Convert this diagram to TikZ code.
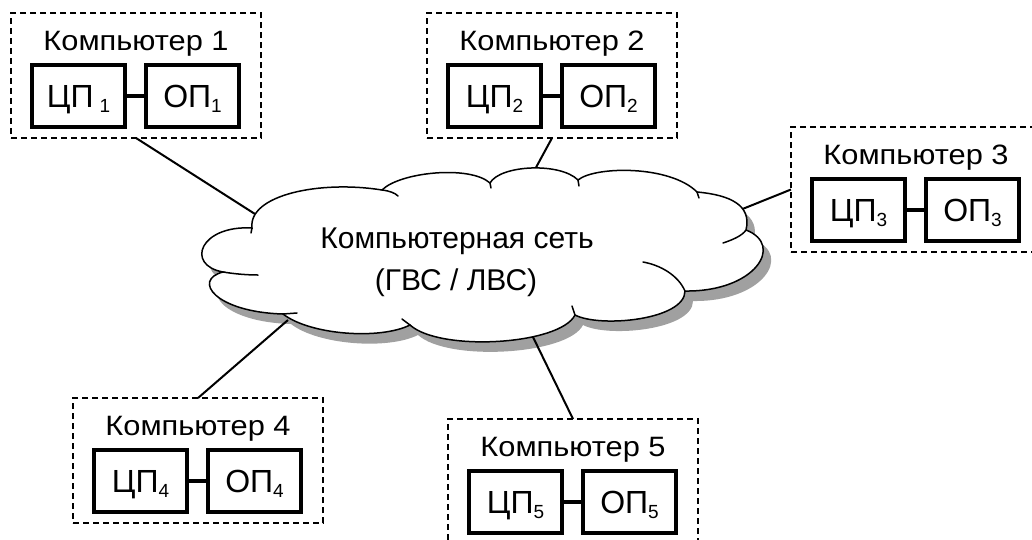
\documentclass[tikz,border=0pt]{standalone}
\usepackage{fontspec}
\setmainfont{Liberation Sans}
\newfontfamily\titlefont[FakeStretch=1.1]{Liberation Sans}
\usetikzlibrary{calc}

% lowered index after a unit name
\newcommand{\lowidx}[1]{\raisebox{-5pt}{\fontsize{19}{19}\selectfont #1}}

\tikzset{
  pcframe/.style={draw, line width=1.3pt, dash pattern=on 6pt off 4pt,
    minimum width=250pt, minimum height=125pt, inner sep=0pt, outer sep=0pt},
  pctitle/.style={inner sep=0pt, font=\titlefont\fontsize{28}{28}\selectfont},
  unitbox/.style={draw, line width=3.3pt, minimum width=93pt, minimum height=62pt,
    inner sep=0pt, outer sep=0pt, text height=23pt, text depth=0pt,
    font=\fontsize{32}{32}\selectfont},
  unitlink/.style={line width=3.3pt},
  netlink/.style={line width=2pt},
  cloudline/.style={line width=1.5pt, line cap=round},
  cloudshadow/.style={fill={rgb,255:red,160;green,160;blue,160}},
  nettext/.style={inner sep=0pt, anchor=base, font=\fontsize{30}{30}\selectfont}
}

% one computer: dashed frame, title, processor and memory boxes
\newcommand{\pcunit}[5]{%
  \node[pcframe] (#1) at (#2) {};
  \node[pctitle, anchor=base] (#1t) at ([yshift=25pt]#1.center) {Компьютер #3};
  \node[unitbox] (#1a) at ([xshift=-57.5pt,yshift=-20.5pt]#1.center) {#4};
  \node[unitbox] (#1b) at ([xshift=56.5pt,yshift=-20.5pt]#1.center) {#5};
  \draw[unitlink] (#1a) -- (#1b);
}

% outline of the network cloud
\def\cloudoutline{(252,228) .. controls (248,195) and (320,180) .. (382,190)
  .. controls (400,172) and (470,165) .. (490,183)
  .. controls (500,165) and (560,162) .. (578,180)
  .. controls (595,166) and (670,165) .. (697,192)
  .. controls (730,195) and (752,205) .. (746,230)
  .. controls (785,245) and (755,292) .. (685,291)
  .. controls (685,320) and (600,328) .. (575,315)
  .. controls (560,345) and (440,352) .. (410,325)
  .. controls (380,340) and (310,335) .. (283,314)
  .. controls (215,312) and (192,280) .. (223,272)
  .. controls (185,265) and (200,225) .. (252,228) -- cycle}

\begin{document}
\begin{tikzpicture}[x=1pt, y=-1pt]
  \useasboundingbox (0,0) rectangle (1032,539);
  \clip (0,0) rectangle (1032,539);

  % computers
  \pcunit{c1}{136,75.5}{1}{ЦП\hspace{6pt}\lowidx{1}}{ОП\lowidx{1}}
  \pcunit{c2}{552,75.5}{2}{ЦП\lowidx{2}}{ОП\lowidx{2}}
  \pcunit{c3}{916,189.5}{3}{ЦП\lowidx{3}}{ОП\lowidx{3}}
  \pcunit{c4}{198,460.5}{4}{ЦП\lowidx{4}}{ОП\lowidx{4}}
  \pcunit{c5}{573,481.5}{5}{ЦП\lowidx{5}}{ОП\lowidx{5}}

  % cloud shadow
  \fill[cloudshadow, shift={(8,10)}] \cloudoutline;

  % attachment points just inside the cloud
  \coordinate (n1) at (255,214);
  \coordinate (n2) at (533,173);
  \coordinate (n3) at (740,210);
  \coordinate (n4) at (288,320);
  \coordinate (n5) at (532,335);

  \draw[netlink] (c1.south) -- (n1);
  \draw[netlink] (c2.south) -- (n2);
  \draw[netlink] (c3.west) -- (n3);
  \draw[netlink] (c4.north) -- (n4);
  \draw[netlink] (c5.north) -- (n5);

  % cloud body
  \filldraw[cloudline, fill=white] \cloudoutline;

  % inner ends of the lobes
  \draw[cloudline] (382,190) .. controls (390,191) and (395,193) .. (398,196);
  \draw[cloudline] (490,183) -- (491,188);
  \draw[cloudline] (578,180) -- (579,186);
  \draw[cloudline] (697,192) -- (699,198);
  \draw[cloudline] (746,230) .. controls (742,236) and (732,240) .. (723,243);
  \draw[cloudline] (685,291) .. controls (678,275) and (660,265) .. (643,262);
  \draw[cloudline] (575,315) -- (572,306);
  \draw[cloudline] (410,325) -- (402,319);
  \draw[cloudline] (283,314) -- (297,313);
  \draw[cloudline] (223,272) .. controls (235,274) and (248,275) .. (258,275);
  \draw[cloudline] (252,228) -- (251,233);

  \node[nettext] (net1) at (457,248) {Компьютерная сеть};
  \node[nettext] (net2) at (456,290) {(ГВС / ЛВС)};
\end{tikzpicture}
\end{document}
